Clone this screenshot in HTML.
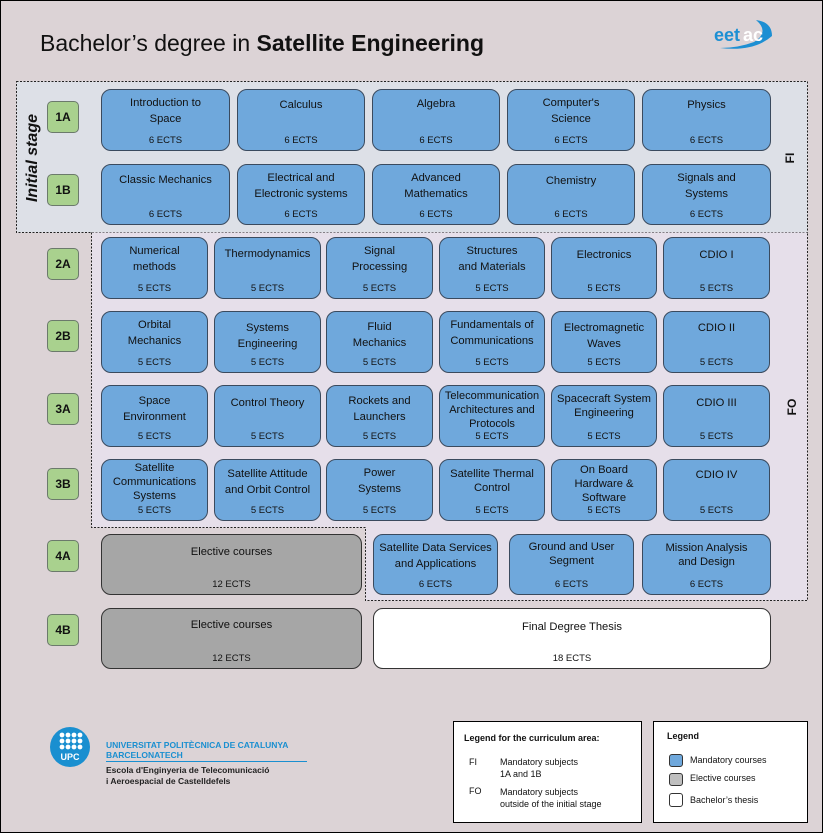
<!DOCTYPE html>
<html><head><meta charset="utf-8"><style>
*{margin:0;padding:0;box-sizing:border-box}
body{width:823px;height:833px;overflow:hidden;background:#dcd3d6;font-family:"Liberation Sans",sans-serif;color:#111}
#frame{position:absolute;left:0;top:0;width:823px;height:833px;border:1px solid #000}
.a{position:absolute}
.b{position:absolute;border:1px solid #3a4a5e;border-radius:10px;background:#6fa8dc;text-align:center;font-size:11.2px;line-height:16px;padding-top:5px}
.b .e{position:absolute;left:0;right:0;bottom:4px;font-size:9.5px;line-height:11px}
.g{background:#a6a6a6;border-color:#333}
.w{background:#fff;border-color:#333}
.s{position:absolute;left:47px;width:32px;height:32px;background:#a9d18e;border:1px solid #6b7a6b;border-radius:5px;font-size:12px;font-weight:bold;text-align:center;line-height:30px}
.leg{position:absolute;background:#fff;border:1px solid #000;font-size:9px}
</style></head><body>
<div id="frame"></div>
<div class="a" style="left:40px;top:29px;font-size:23px;line-height:28px">Bachelor’s degree in <b>Satellite Engineering</b></div>
<div class="a" style="left:714px;top:18px;width:60px;height:34px">
<svg width="60" height="34"><path d="M6 30 Q40 34 58 18 Q58 4 42 2 Q56 14 40 24 Q24 30 6 30Z" fill="#1d8fd3"/><text x="0" y="23" font-family="Liberation Sans" font-weight="bold" font-size="18" fill="#1d8fd3">eet</text><text x="29" y="23" font-family="Liberation Sans" font-weight="bold" font-size="18" fill="#fff">ac</text></svg></div>

<svg class="a" style="left:0;top:0" width="823" height="833">
<rect x="16.5" y="81.5" width="791" height="151" fill="#dde0e7" stroke="#222" stroke-dasharray="2,1.5"/>
<path d="M91.5 232.5 V527.5 H365.5 V600.5 H807.5 V232.5" fill="#e6dfea" stroke="#222" stroke-dasharray="2,1.5"/></svg>

<div class="a" style="left:33px;top:158px;transform:translate(-50%,-50%) rotate(-90deg);font-size:16px;font-weight:bold;font-style:italic;white-space:nowrap">Initial stage</div>
<div class="a" style="left:790px;top:158px;transform:translate(-50%,-50%) rotate(-90deg);font-size:12px;font-weight:bold">FI</div>
<div class="a" style="left:792px;top:407px;transform:translate(-50%,-50%) rotate(-90deg);font-size:12px;font-weight:bold">FO</div>

<div class="s" style="top:101px">1A</div>
<div class="s" style="top:174px">1B</div>
<div class="s" style="top:248px">2A</div>
<div class="s" style="top:320px">2B</div>
<div class="s" style="top:393px">3A</div>
<div class="s" style="top:468px">3B</div>
<div class="s" style="top:540px">4A</div>
<div class="s" style="top:614px">4B</div>

<div class="b" style="left:101px;top:89px;width:129px;height:62px">Introduction to<br>Space<div class="e">6 ECTS</div></div>
<div class="b" style="left:237px;top:89px;width:128px;height:62px;padding-top:7px">Calculus<div class="e">6 ECTS</div></div>
<div class="b" style="left:372px;top:89px;width:128px;height:62px;padding-top:6px">Algebra<div class="e">6 ECTS</div></div>
<div class="b" style="left:507px;top:89px;width:128px;height:62px">Computer's<br>Science<div class="e">6 ECTS</div></div>
<div class="b" style="left:642px;top:89px;width:129px;height:62px;padding-top:7px">Physics<div class="e">6 ECTS</div></div>
<div class="b" style="left:101px;top:164px;width:129px;height:61px;padding-top:7px">Classic Mechanics<div class="e">6 ECTS</div></div>
<div class="b" style="left:237px;top:164px;width:128px;height:61px">Electrical and<br>Electronic systems<div class="e">6 ECTS</div></div>
<div class="b" style="left:372px;top:164px;width:128px;height:61px">Advanced<br>Mathematics<div class="e">6 ECTS</div></div>
<div class="b" style="left:507px;top:164px;width:128px;height:61px;padding-top:8px">Chemistry<div class="e">6 ECTS</div></div>
<div class="b" style="left:642px;top:164px;width:129px;height:61px">Signals and<br>Systems<div class="e">6 ECTS</div></div>

<div class="b" style="left:101px;top:237px;width:107px;height:62px">Numerical<br>methods<div class="e">5 ECTS</div></div>
<div class="b" style="left:214px;top:237px;width:107px;height:62px;padding-top:8px">Thermodynamics<div class="e">5 ECTS</div></div>
<div class="b" style="left:326px;top:237px;width:107px;height:62px">Signal<br>Processing<div class="e">5 ECTS</div></div>
<div class="b" style="left:439px;top:237px;width:106px;height:62px">Structures<br>and Materials<div class="e">5 ECTS</div></div>
<div class="b" style="left:551px;top:237px;width:106px;height:62px;padding-top:9px">Electronics<div class="e">5 ECTS</div></div>
<div class="b" style="left:663px;top:237px;width:107px;height:62px;padding-top:9px">CDIO I<div class="e">5 ECTS</div></div>
<div class="b" style="left:101px;top:311px;width:107px;height:62px">Orbital<br>Mechanics<div class="e">5 ECTS</div></div>
<div class="b" style="left:214px;top:311px;width:107px;height:62px;padding-top:8px">Systems<br>Engineering<div class="e">5 ECTS</div></div>
<div class="b" style="left:326px;top:311px;width:107px;height:62px;padding-top:7px">Fluid<br>Mechanics<div class="e">5 ECTS</div></div>
<div class="b" style="left:439px;top:311px;width:106px;height:62px">Fundamentals of<br>Communications<div class="e">5 ECTS</div></div>
<div class="b" style="left:551px;top:311px;width:106px;height:62px;padding-top:8px">Electromagnetic<br>Waves<div class="e">5 ECTS</div></div>
<div class="b" style="left:663px;top:311px;width:107px;height:62px;padding-top:8px">CDIO II<div class="e">5 ECTS</div></div>
<div class="b" style="left:101px;top:385px;width:107px;height:62px;padding-top:7px">Space<br>Environment<div class="e">5 ECTS</div></div>
<div class="b" style="left:214px;top:385px;width:107px;height:62px;padding-top:9px">Control Theory<div class="e">5 ECTS</div></div>
<div class="b" style="left:326px;top:385px;width:107px;height:62px;padding-top:7px">Rockets and<br>Launchers<div class="e">5 ECTS</div></div>
<div class="b" style="left:439px;top:385px;width:106px;height:62px;line-height:14px;padding-top:3px;font-size:11px">Telecommunication<br>Architectures and<br>Protocols<div class="e">5 ECTS</div></div>
<div class="b" style="left:551px;top:385px;width:106px;height:62px;line-height:14px;padding-top:6px">Spacecraft System<br>Engineering<div class="e">5 ECTS</div></div>
<div class="b" style="left:663px;top:385px;width:107px;height:62px;padding-top:9px">CDIO III<div class="e">5 ECTS</div></div>
<div class="b" style="left:101px;top:459px;width:107px;height:62px;line-height:14px;padding-top:1px">Satellite<br>Communications<br>Systems<div class="e">5 ECTS</div></div>
<div class="b" style="left:214px;top:459px;width:107px;height:62px;padding-top:6px">Satellite Attitude<br>and Orbit Control<div class="e">5 ECTS</div></div>
<div class="b" style="left:326px;top:459px;width:107px;height:62px;padding-top:5px">Power<br>Systems<div class="e">5 ECTS</div></div>
<div class="b" style="left:439px;top:459px;width:106px;height:62px;line-height:14px;padding-top:7px">Satellite Thermal<br>Control<div class="e">5 ECTS</div></div>
<div class="b" style="left:551px;top:459px;width:106px;height:62px;line-height:14px;padding-top:3px">On Board<br>Hardware &amp;<br>Software<div class="e">5 ECTS</div></div>
<div class="b" style="left:663px;top:459px;width:107px;height:62px;padding-top:7px">CDIO IV<div class="e">5 ECTS</div></div>
<div class="b g" style="left:101px;top:534px;width:261px;height:61px;padding-top:9px">Elective courses<div class="e">12 ECTS</div></div>
<div class="b" style="left:373px;top:534px;width:125px;height:61px">Satellite Data Services<br>and Applications<div class="e">6 ECTS</div></div>
<div class="b" style="left:509px;top:534px;width:125px;height:61px;line-height:14px;padding-top:5px">Ground and User<br>Segment<div class="e">6 ECTS</div></div>
<div class="b" style="left:642px;top:534px;width:129px;height:61px;line-height:14px;padding-top:6px">Mission Analysis<br>and Design<div class="e">6 ECTS</div></div>
<div class="b g" style="left:101px;top:608px;width:261px;height:61px;padding-top:8px">Elective courses<div class="e">12 ECTS</div></div>
<div class="b w" style="left:373px;top:608px;width:398px;height:61px;padding-top:10px">Final Degree Thesis<div class="e">18 ECTS</div></div>

<div class="a" style="left:50px;top:727px;width:40px;height:40px;border-radius:50%;background:#1a8fd0"></div>
<svg class="a" style="left:50px;top:727px" width="40" height="40">
<g fill="#fff"><circle cx="12" cy="8" r="2.4"/><circle cx="18" cy="8" r="2.4"/><circle cx="24" cy="8" r="2.4"/><circle cx="30" cy="8" r="2.4"/>
<circle cx="12" cy="14" r="2.4"/><circle cx="18" cy="14" r="2.4"/><circle cx="24" cy="14" r="2.4"/><circle cx="30" cy="14" r="2.4"/>
<circle cx="12" cy="20" r="2.4"/><circle cx="18" cy="20" r="2.4"/><circle cx="24" cy="20" r="2.4"/><circle cx="30" cy="20" r="2.4"/></g>
<text x="20" y="33" text-anchor="middle" font-family="Liberation Sans" font-weight="bold" font-size="9" fill="#fff">UPC</text></svg>
<div class="a" style="left:106px;top:740px;font-size:8.5px;font-weight:bold;color:#1a8fd0;line-height:10px">UNIVERSITAT POLITÈCNICA DE CATALUNYA<br>BARCELONATECH</div>
<div class="a" style="left:106px;top:761px;width:201px;height:1px;background:#1a8fd0"></div>
<div class="a" style="left:106px;top:765px;font-size:8.5px;font-weight:bold;color:#222;line-height:11px">Escola d'Enginyeria de Telecomunicació<br>i Aeroespacial de Castelldefels</div>

<div class="leg" style="left:453px;top:721px;width:189px;height:102px">
<div class="a" style="left:10px;top:11px;font-weight:bold">Legend for the curriculum area:</div>
<div class="a" style="left:15px;top:35px">FI</div>
<div class="a" style="left:46px;top:34px;line-height:12px">Mandatory subjects<br>1A and 1B</div>
<div class="a" style="left:15px;top:64px">FO</div>
<div class="a" style="left:46px;top:64px;line-height:12px">Mandatory subjects<br>outside of the initial stage</div>
</div>
<div class="leg" style="left:653px;top:721px;width:155px;height:102px">
<div class="a" style="left:13px;top:9px;font-weight:bold">Legend</div>
<div class="a" style="left:15px;top:32px;width:14px;height:13px;background:#6fa8dc;border:1px solid #333;border-radius:3px"></div>
<div class="a" style="left:36px;top:33px">Mandatory courses</div>
<div class="a" style="left:15px;top:51px;width:14px;height:13px;background:#bfbfbf;border:1px solid #333;border-radius:3px"></div>
<div class="a" style="left:36px;top:51px">Elective courses</div>
<div class="a" style="left:15px;top:71px;width:14px;height:14px;background:#fff;border:1px solid #333;border-radius:3px"></div>
<div class="a" style="left:36px;top:73px">Bachelor’s thesis</div>
</div>
</body></html>
